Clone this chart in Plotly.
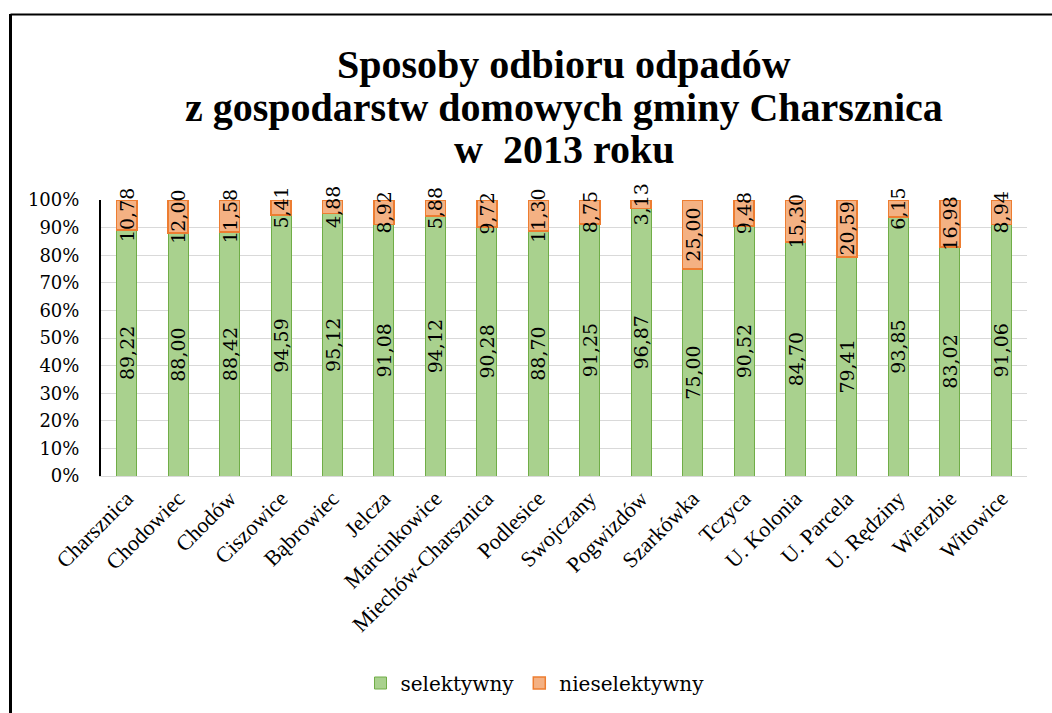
import plotly.graph_objects as go

categories = ["Charsznica", "Chodowiec", "Chodów", "Ciszowice", "Bąbrowiec", "Jelcza",
              "Marcinkowice", "Miechów-Charsznica", "Podlesice", "Swojczany", "Pogwizdów",
              "Szarkówka", "Tczyca", "U. Kolonia", "U. Parcela", "U. Rędziny", "Wierzbie", "Witowice"]
selektywny = [89.22, 88.00, 88.42, 94.59, 95.12, 91.08, 94.12, 90.28, 88.70, 91.25, 96.87,
              75.00, 90.52, 84.70, 79.41, 93.85, 83.02, 91.06]
nieselektywny = [10.78, 12.00, 11.58, 5.41, 4.88, 8.92, 5.88, 9.72, 11.30, 8.75, 3.13,
                 25.00, 9.48, 15.30, 20.59, 6.15, 16.98, 8.94]
y_ticks = [0, 10, 20, 30, 40, 50, 60, 70, 80, 90, 100]
y_tick_labels = [f"{v}%" for v in y_ticks]
title_lines = ["Sposoby odbioru odpadów", "z gospodarstw domowych gminy Charsznica", "w  2013 roku"]

def fmt(v):
    return f"{v:.2f}".replace(".", ",")

W, H = 1052, 713
ML, MR, MT, MB = 101, 25, 200, 237
pw, ph = W - ML - MR, H - MT - MB

def px(x):
    return (x - ML) / pw

def py(y):
    return (H - MB - y) / ph

label_font = dict(family="DejaVu Serif", size=19, color="black")

fig = go.Figure()
fig.add_trace(go.Bar(
    name="selektywny", x=categories, y=selektywny,
    marker=dict(color="#A9D18E", line=dict(color="#70AD47", width=1)),
    text=[fmt(v) for v in selektywny], textposition="inside", textangle=-90,
    insidetextanchor="middle", constraintext="none", insidetextfont=label_font,
    cliponaxis=False,
))
fig.add_trace(go.Bar(
    name="nieselektywny", x=categories, y=nieselektywny,
    marker=dict(color="#F4B183", line=dict(color="#ED7D31", width=1.5)),
    text=[fmt(v) for v in nieselektywny], textposition="inside", textangle=-90,
    insidetextanchor="middle", constraintext="none", insidetextfont=label_font,
    cliponaxis=False,
))

title_centers = [64, 107, 149]
annotations = [
    dict(text=t, xref="paper", yref="paper", x=0.5, y=py(c), xanchor="center",
         yanchor="middle", showarrow=False,
         font=dict(family="Liberation Serif", size=40, color="black", weight="bold"))
    for t, c in zip(title_lines, title_centers)
]

fig.update_layout(
    width=W, height=H,
    margin=dict(l=ML, r=MR, t=MT, b=MB, autoexpand=False),
    barmode="stack", bargap=0.61,
    plot_bgcolor="white", paper_bgcolor="white",
    annotations=annotations,
    xaxis=dict(
        tickangle=-45, tickfont=dict(family="Liberation Serif", size=22, color="black"),
        showline=True, linecolor="#d9d9d9", linewidth=1, ticks="",
        showgrid=False, ticklabelstandoff=0,
    ),
    yaxis=dict(
        range=[0, 100], tickvals=y_ticks, ticktext=y_tick_labels,
        tickfont=dict(family="DejaVu Serif", size=18, color="black"),
        showgrid=True, gridcolor="#d9d9d9", gridwidth=1,
        showline=True, linecolor="black", linewidth=2, ticks="",
        zeroline=False, ticklabelstandoff=16,
    ),
    legend=dict(
        orientation="h", x=px(535), xanchor="center", y=py(683), yanchor="middle",
        font=dict(family="DejaVu Serif", size=20, color="black"),
        traceorder="normal",
    ),
    showlegend=True,
    shapes=[
        dict(type="line", xref="paper", yref="paper", x0=px(10.5), x1=px(W + 5),
             y0=py(14.5), y1=py(14.5), line=dict(color="black", width=2)),
        dict(type="line", xref="paper", yref="paper", x0=px(10.5), x1=px(10.5),
             y0=py(14), y1=py(H + 5), line=dict(color="black", width=3)),
    ],
)

fig.write_html("out.html", config={"displayModeBar": False},
               post_script="document.body.style.margin='0px';")
